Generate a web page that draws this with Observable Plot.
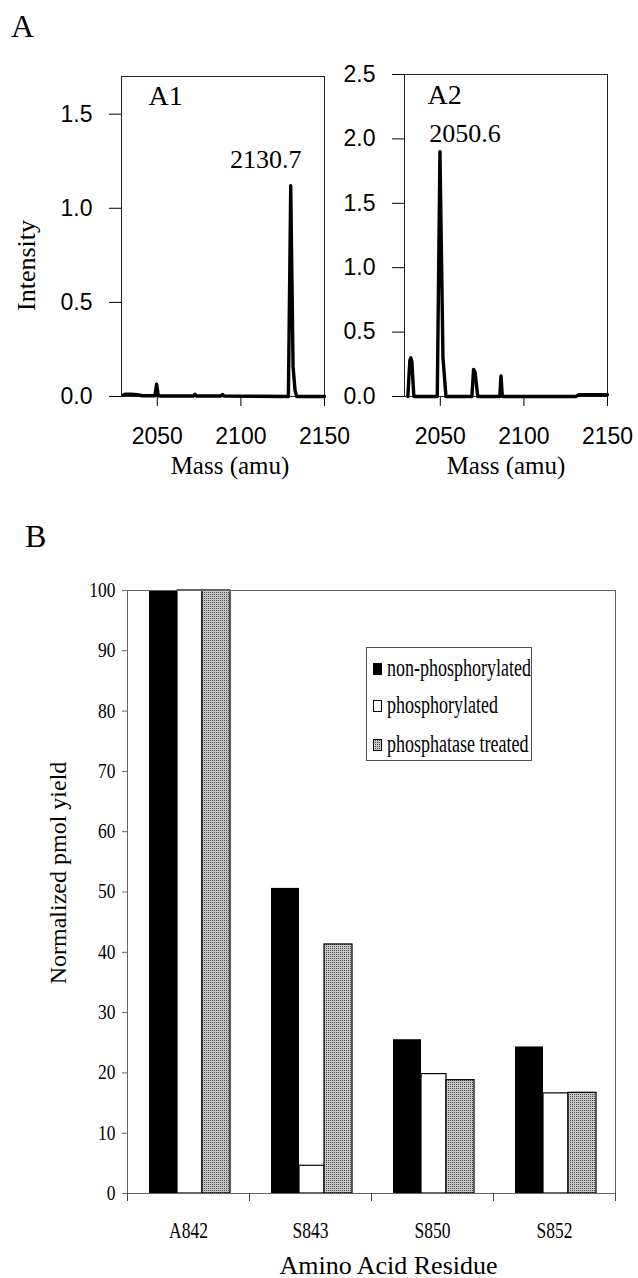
<!DOCTYPE html>
<html>
<head>
<meta charset="utf-8">
<script src="https://cdn.jsdelivr.net/npm/d3@7"></script>
<script src="https://cdn.jsdelivr.net/npm/@observablehq/plot@0.6"></script>
<style>
  body { margin: 0; background: #fff; }
  #root { position: relative; width: 638px; height: 1278px; overflow: hidden; font-family: "Liberation Serif", serif; color: #000; }
  .panel { position: absolute; font-family: "Liberation Serif", serif; line-height: 1; white-space: nowrap; }
  .lrow { position: absolute; font-family: "Liberation Serif", serif; font-size: 18px; line-height: 1; white-space: nowrap; transform: scaleY(1.35); transform-origin: 0 15px; }
  .sw { position: absolute; width: 9px; height: 12px; border: 1px solid #000; box-sizing: border-box; }
</style>
</head>
<body>
<div id="root"></div>
<script>
// ---------- Panel A data ----------
const massTicks = [2050, 2100, 2150];
const massDomain = [2028.6, 2150];

const a1Mass = [2029.6, 2031, 2034, 2038, 2041, 2048.6, 2049.6, 2050.6, 2052, 2060, 2071.5, 2072.5, 2073.5, 2088, 2089, 2090, 2128.4, 2129.8, 2131.2, 2132.4, 2133.4, 2140, 2150];
const a1Int  = [0.008, 0.012, 0.012, 0.01, 0.004, 0.004, 0.065, 0.004, 0.003, 0.003, 0.003, 0.012, 0.003, 0.003, 0.01, 0.002, 0.0, 1.12, 0.16, 0.03, 0.0, 0.0, 0.0];
const a1YTicks = [0, 0.5, 1.0, 1.5];
const a1YMax = 1.7;
const a1PeakMass = [2129.8];
const a1PeakInt = [1.12];
const a1PeakLabel = ["2130.7"];

const a2Mass = [2030.6, 2031.8, 2032.4, 2033.0, 2034.2, 2048.2, 2049.8, 2051.6, 2053.4, 2068.9, 2069.9, 2070.8, 2072.4, 2085.6, 2086.3, 2087.1, 2131, 2133, 2150];
const a2Int  = [0.0, 0.28, 0.3, 0.27, 0.0, 0.0, 1.9, 0.3, 0.0, 0.0, 0.21, 0.19, 0.0, 0.0, 0.16, 0.0, 0.0, 0.014, 0.014];
const a2YTicks = [0, 0.5, 1.0, 1.5, 2.0, 2.5];
const a2YMax = 2.5;
const a2PeakMass = [2049.8];
const a2PeakInt = [1.9];
const a2PeakLabel = ["2050.6"];

// ---------- Panel B data ----------
const residues = ["A842", "S843", "S850", "S852"];
const seriesNames = ["non-phosphorylated", "phosphorylated", "phosphatase treated"];
const nonPhosphorylated = [100, 50.6, 25.5, 24.3];
const phosphorylated = [100, 4.6, 19.8, 16.6];
const phosphataseTreated = [100, 41.3, 18.8, 16.7];
const bYTicks = [0, 10, 20, 30, 40, 50, 60, 70, 80, 90, 100];

const root = document.getElementById("root");

function place(el, left, top) {
  el.style.position = "absolute";
  el.style.left = left + "px";
  el.style.top = top + "px";
  root.appendChild(el);
}

function spectrum(o) {
  const data = o.mass.map((m, i) => ({m, v: o.inten[i]}));
  const peaks = o.peakM.map((m, i) => ({m, v: o.peakI[i], t: o.peakL[i]}));
  const marks = [
    Plot.axisY({ticks: o.yTicks, tickSize: 12, tickPadding: 17, tickFormat: d3.format(".1f"), label: null,
      fontFamily: "Liberation Sans", fontSize: 23}),
    Plot.axisX({ticks: massTicks, tickSize: 10, tickPadding: 21, tickFormat: d => String(d), label: null,
      fontFamily: "Liberation Sans", fontSize: 23}),
    Plot.frame({stroke: "#222", strokeWidth: 1}),
    Plot.line(data, {x: "m", y: "v", stroke: "#000", strokeWidth: 3.4, strokeLinejoin: "round", strokeLinecap: "round"}),
    Plot.text(peaks, {x: "m", y: "v", text: "t", dx: o.peakDx, dy: o.peakDy, lineAnchor: "bottom", textAnchor: "middle",
      fontFamily: "Liberation Serif", fontSize: 26}),
    Plot.text([o.tag], {text: d => d, frameAnchor: "top-left", textAnchor: "start", lineAnchor: "bottom",
      dx: o.tagDx, dy: o.tagDy, fontFamily: "Liberation Serif", fontSize: 28}),
    Plot.text(["Mass (amu)"], {text: d => d, frameAnchor: "bottom", textAnchor: "middle", lineAnchor: "bottom", dx: o.massDx, dy: 77,
      fontFamily: "Liberation Serif", fontSize: 25})
  ];
  if (o.yLabel) {
    marks.push(Plot.text([o.yLabel], {text: d => d, frameAnchor: "left", textAnchor: "middle", rotate: -90, lineAnchor: "bottom",
      dx: -87, dy: 29, fontFamily: "Liberation Serif", fontSize: 26}));
  }
  return Plot.plot({
    width: o.width, height: 490,
    marginLeft: o.marginLeft, marginRight: o.marginRight, marginTop: o.marginTop, marginBottom: 94,
    x: {domain: massDomain, label: null},
    y: {domain: [0, o.yMax], label: null},
    style: {background: "transparent", color: "#000", overflow: "visible"},
    marks
  });
}

const a1 = spectrum({mass: a1Mass, inten: a1Int, yTicks: a1YTicks, yMax: a1YMax,
  peakM: a1PeakMass, peakI: a1PeakInt, peakL: a1PeakLabel, peakDx: -25, peakDy: -18,
  tag: "A1", tagDx: 27, tagDy: 28, massDx: 7, yLabel: "Intensity",
  width: 330, marginLeft: 121, marginRight: 6, marginTop: 76});
place(a1, 0, 0);

const a2 = spectrum({mass: a2Mass, inten: a2Int, yTicks: a2YTicks, yMax: a2YMax,
  peakM: a2PeakMass, peakI: a2PeakInt, peakL: a2PeakLabel, peakDx: 25, peakDy: -10,
  tag: "A2", tagDx: 23, tagDy: 29, massDx: 0, yLabel: null,
  width: 308, marginLeft: 74, marginRight: 31, marginTop: 74});
place(a2, 330, 0);

// ---------- Panel B ----------
const rowsFor = vals => residues.map((r, i) => ({r, v: vals[i]}));
const bandInsets = [[22, 72], [50, 47], [75, 19]];
const fills = ["#000", "#fff", "url(#stipple)"];
const seriesVals = [nonPhosphorylated, phosphorylated, phosphataseTreated];

const bPlot = Plot.plot({
  width: 638, height: 718,
  marginTop: 30, marginLeft: 127, marginRight: 23, marginBottom: 85,
  x: {domain: residues, padding: 0, label: null},
  y: {domain: [0, 100], label: null},
  style: {background: "transparent", color: "#000", overflow: "visible"},
  marks: [
    ...seriesVals.map((vals, s) => Plot.barY(rowsFor(vals), {
      x: "r", y: "v", fill: fills[s], stroke: "#000", strokeWidth: s === 0 ? 0 : 1.2,
      insetLeft: bandInsets[s][0], insetRight: bandInsets[s][1]
    })),
    Plot.frame({stroke: "#666", strokeWidth: 1}),
    Plot.axisY({ticks: bYTicks, tickSize: 5, tickPadding: 7, label: null, fontFamily: "Liberation Serif", fontSize: 17.5, stroke: "#666"}),
    Plot.axisX({tickSize: 0, tickPadding: 28, label: null, fontFamily: "Liberation Serif", fontSize: 17.5}),
    Plot.axisX(residues, {text: null, tickSize: 8, dx: -61, label: null, stroke: "#444"}),
    Plot.axisX([residues[residues.length - 1]], {text: null, tickSize: 8, dx: 61, label: null, stroke: "#444"}),
    Plot.text(["Normalized pmol yield"], {text: d => d, frameAnchor: "left", textAnchor: "middle", rotate: -90, lineAnchor: "bottom",
      dx: -62, dy: -19, fontFamily: "Liberation Serif", fontSize: 24}),
    Plot.text(["Amino Acid Residue"], {text: d => d, frameAnchor: "bottom", textAnchor: "middle", lineAnchor: "bottom",
      dx: 17, dy: 80, fontFamily: "Liberation Serif", fontSize: 26})
  ]
});

// stipple pattern for "phosphatase treated"
const ns = "http://www.w3.org/2000/svg";
const defs = document.createElementNS(ns, "defs");
defs.innerHTML = '<pattern id="stipple" width="2" height="2" patternUnits="userSpaceOnUse">' +
  '<rect width="2" height="2" fill="#c8c8c8"></rect><rect width="1" height="1" fill="#4a4a4a"></rect></pattern>';
bPlot.insertBefore(defs, bPlot.firstChild);

// tall, narrow serif look of the tick labels: append a vertical scale to each label's own transform
function stretch(svg, sel, sy) {
  svg.querySelectorAll(sel).forEach(t => {
    const tr = t.getAttribute("transform");
    if (tr) t.setAttribute("transform", tr + ` scale(1,${sy})`);
  });
}
stretch(bPlot, 'g[aria-label="y-axis tick label"] text', 1.15);
stretch(bPlot, 'g[aria-label="x-axis tick label"] text', 1.3);
place(bPlot, 0, 560);

// ---------- panel letters ----------
const letterA = document.createElement("div");
letterA.className = "panel"; letterA.style.fontSize = "32px"; letterA.textContent = "A";
place(letterA, 11, 10);
const letterB = document.createElement("div");
letterB.className = "panel"; letterB.style.fontSize = "32px"; letterB.textContent = "B";
place(letterB, 25, 520);

// ---------- legend for panel B ----------
const legend = document.createElement("div");
legend.style.width = "166px"; legend.style.height = "114px";
legend.style.border = "1px solid #555"; legend.style.boxSizing = "border-box"; legend.style.background = "#fff";
place(legend, 366, 647);
const swatchStyles = [
  "background:#000;",
  "background:#fff;",
  "background: repeating-conic-gradient(#4a4a4a 0 25%, #c8c8c8 0 100%) 0 0/2px 2px;"
];
const baselines = [676, 713, 752];
seriesNames.forEach((name, i) => {
  const sw = document.createElement("div");
  sw.className = "sw"; sw.style.cssText += swatchStyles[i];
  sw.style.left = "6px"; sw.style.top = (baselines[i] - 647 - 14) + "px";
  legend.appendChild(sw);
  const t = document.createElement("div");
  t.className = "lrow"; t.textContent = name;
  t.style.left = "20px"; t.style.top = (baselines[i] - 647 - 16) + "px";
  legend.appendChild(t);
});
</script>
</body>
</html>
